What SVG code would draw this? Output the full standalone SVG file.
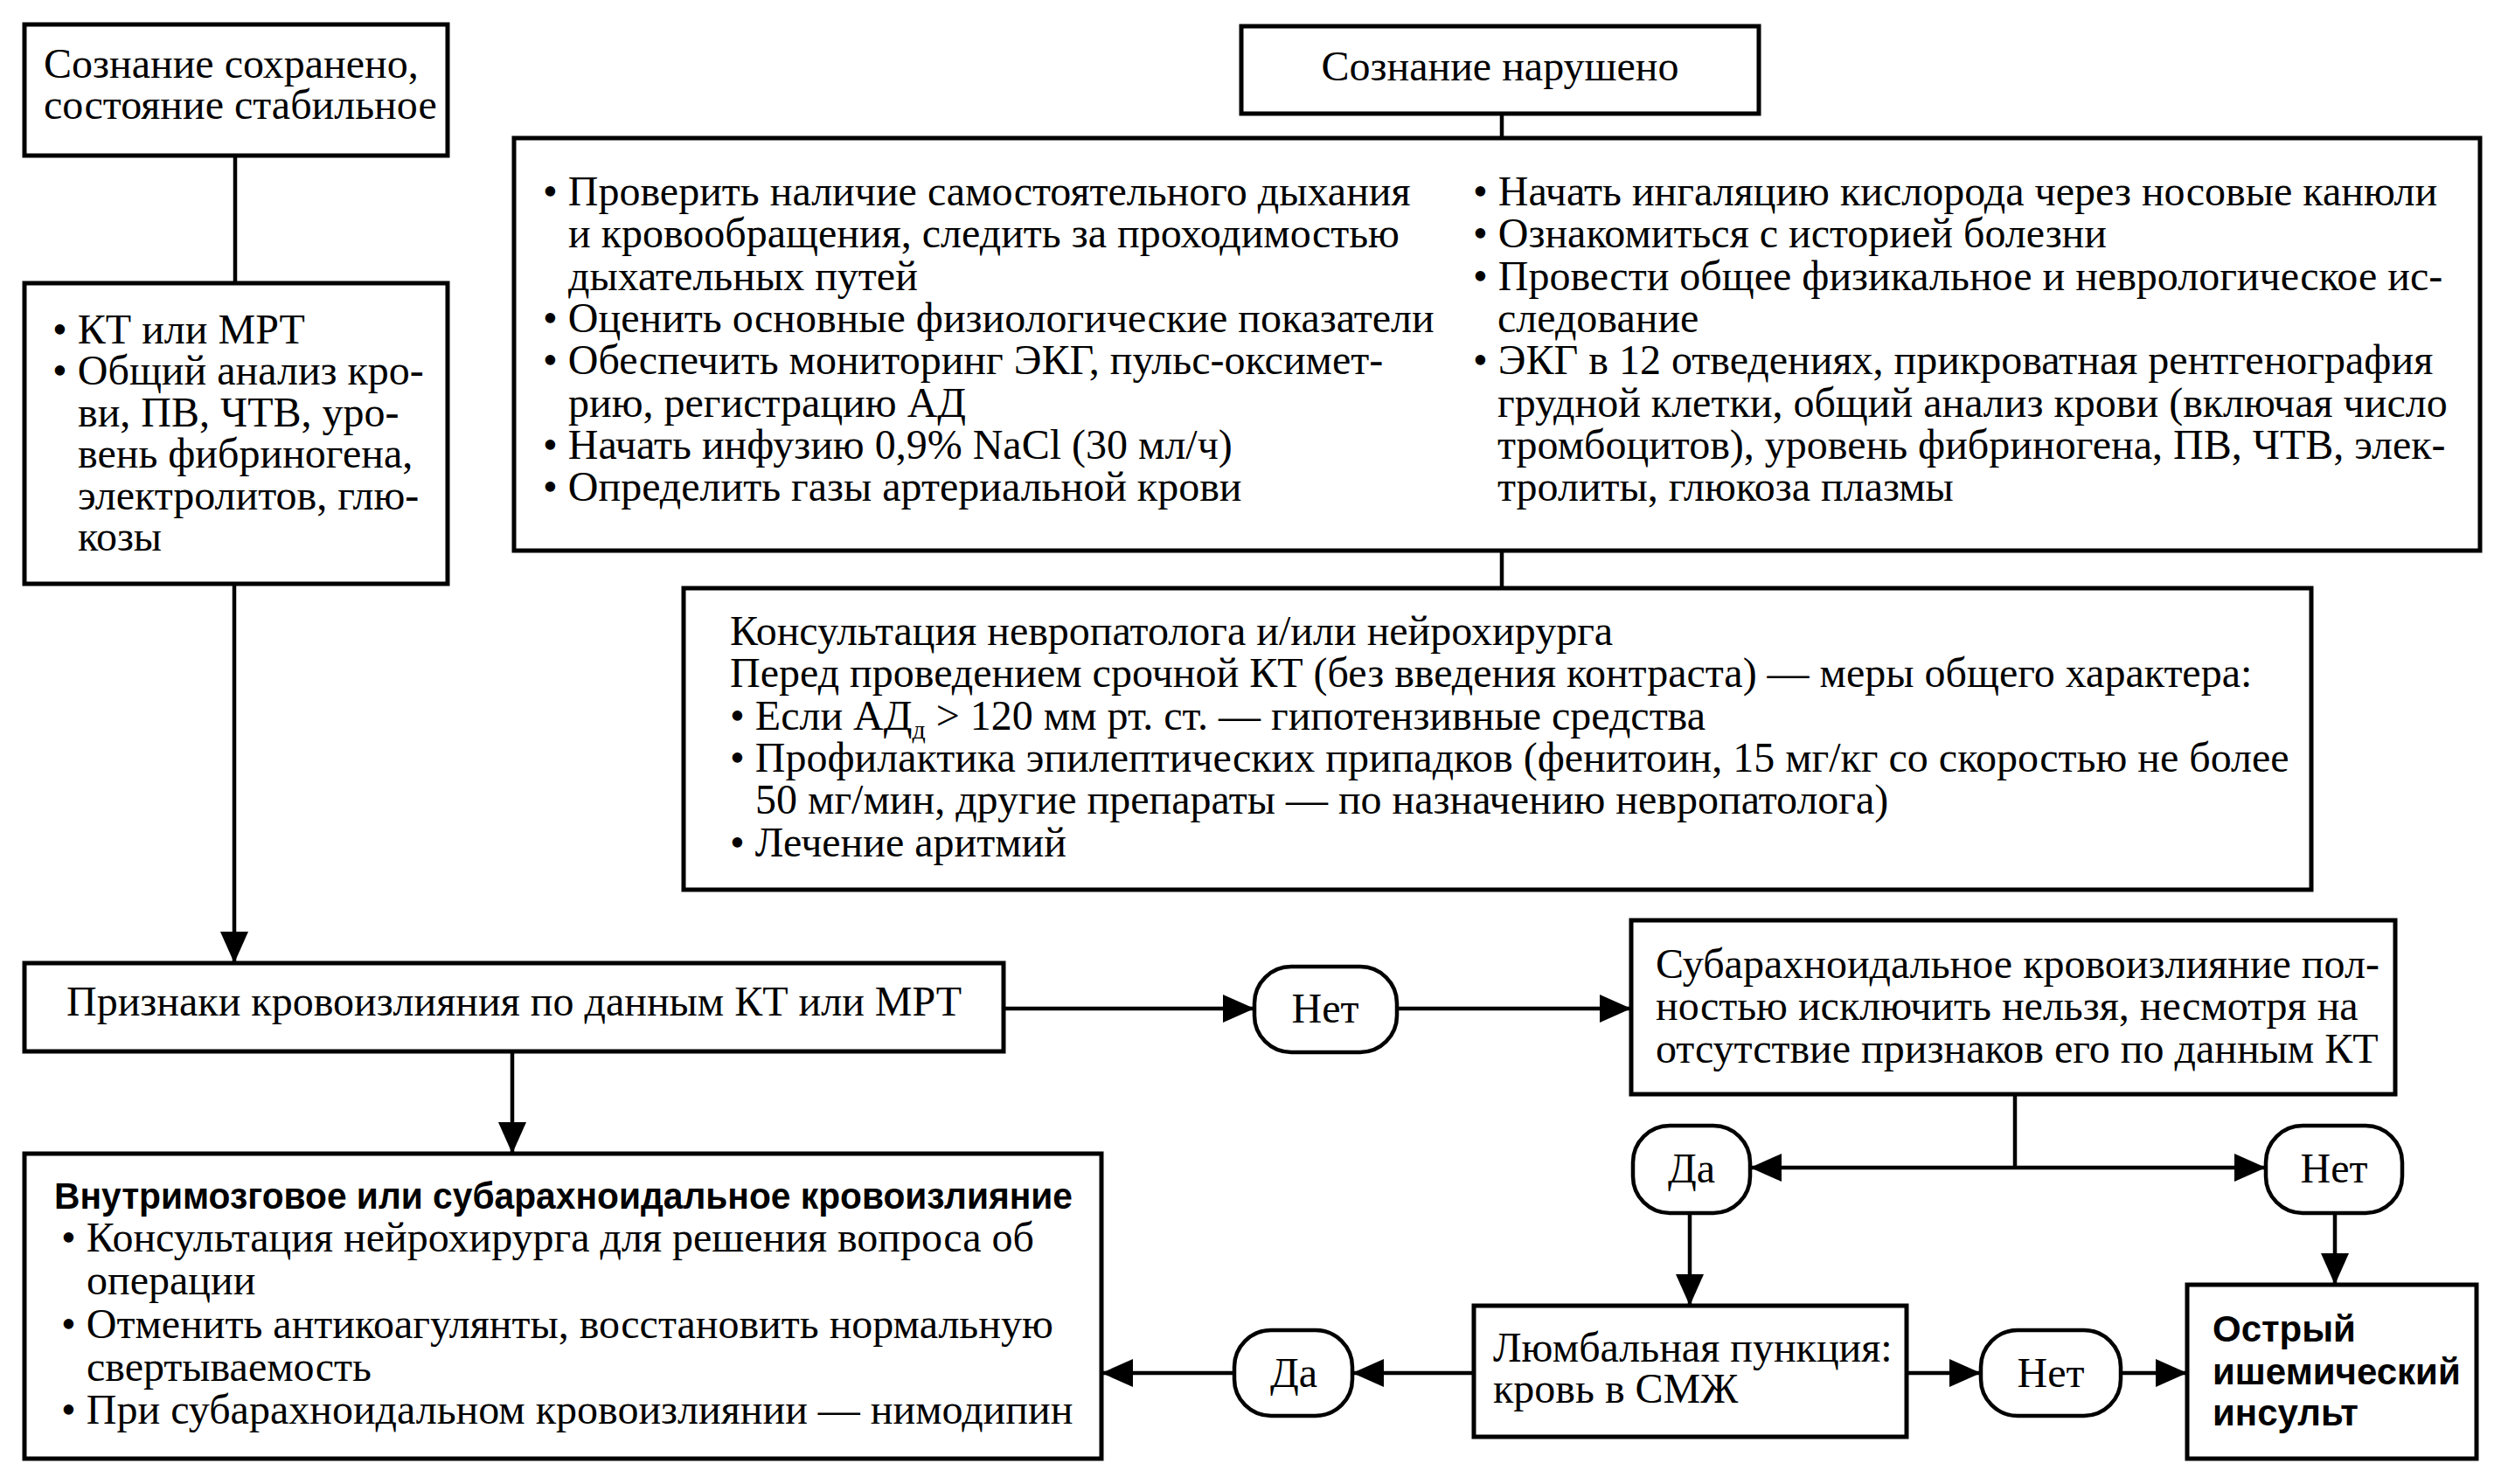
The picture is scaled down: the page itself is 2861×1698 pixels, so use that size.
<svg xmlns="http://www.w3.org/2000/svg" width="2861" height="1698" viewBox="0 0 2861 1698">
<style>
.box{fill:#fff;stroke:#000;stroke-width:5}
.pill{fill:#fff;stroke:#000;stroke-width:4.5}
.t{font-family:"Liberation Serif","Times New Roman",serif;font-size:48px;fill:#000}
.b{font-family:"Liberation Sans",Arial,sans-serif;font-size:42px;font-weight:bold;fill:#000}
.c{text-anchor:middle}
.ln{fill:none;stroke:#000;stroke-width:4.5}
.ar{fill:none;stroke:#000;stroke-width:4.5;marker-end:url(#ah)}
</style>
<defs>
<marker id="ah" markerUnits="userSpaceOnUse" markerWidth="38" markerHeight="34" refX="36" refY="16" orient="auto">
<path d="M0,0 L36,16 L0,32 Z" fill="#000"/>
</marker>
</defs>
<rect width="2861" height="1698" fill="#fff"/>
<g id="connectors">
<line class="ln" x1="269" y1="178" x2="269" y2="324"/>
<line class="ar" x1="268" y1="668" x2="268" y2="1102"/>
<line class="ln" x1="1718" y1="130" x2="1718" y2="158"/>
<line class="ln" x1="1718" y1="630" x2="1718" y2="673"/>
<line class="ar" x1="1148" y1="1154" x2="1435" y2="1154"/>
<line class="ar" x1="1598" y1="1154" x2="1866" y2="1154"/>
<line class="ln" x1="2305" y1="1252" x2="2305" y2="1336"/>
<line class="ar" x1="2305" y1="1336" x2="2002" y2="1336"/>
<line class="ar" x1="2305" y1="1336" x2="2592" y2="1336"/>
<line class="ar" x1="1933" y1="1388" x2="1933" y2="1494"/>
<line class="ar" x1="2671" y1="1388" x2="2671" y2="1470"/>
<line class="ar" x1="2181" y1="1571" x2="2266" y2="1571"/>
<line class="ar" x1="2426" y1="1571" x2="2502" y2="1571"/>
<line class="ar" x1="1686" y1="1571" x2="1547" y2="1571"/>
<line class="ar" x1="1412" y1="1571" x2="1260" y2="1571"/>
<line class="ar" x1="586" y1="1203" x2="586" y2="1320"/>
</g>
<g id="n_conscious">
<rect class="box" x="28" y="28" width="484" height="150"/>
<text class="t" x="50" y="89">Сознание сохранено,</text>
<text class="t" x="50" y="136">состояние стабильное</text>
</g>
<g id="n_ct">
<rect class="box" x="28" y="324" width="484" height="344"/>
<text class="t" x="60" y="393">• КТ или МРТ</text>
<text class="t" x="60" y="440">• Общий анализ кро-</text>
<text class="t" x="89" y="488">ви, ПВ, ЧТВ, уро-</text>
<text class="t" x="89" y="535">вень фибриногена,</text>
<text class="t" x="89" y="583">электролитов, глю-</text>
<text class="t" x="89" y="630">козы</text>
</g>
<g id="n_impaired">
<rect class="box" x="1420" y="30" width="592" height="100"/>
<text class="t c" x="1716" y="92">Сознание нарушено</text>
</g>
<g id="n_measures">
<rect class="box" x="588" y="158" width="2249" height="472"/>
<text class="t" x="621" y="235">• Проверить наличие самостоятельного дыхания</text>
<text class="t" x="650" y="283">и кровообращения, следить за проходимостью</text>
<text class="t" x="650" y="332">дыхательных путей</text>
<text class="t" x="621" y="380">• Оценить основные физиологические показатели</text>
<text class="t" x="621" y="428">• Обеспечить мониторинг ЭКГ, пульс-оксимет-</text>
<text class="t" x="650" y="477">рию, регистрацию АД</text>
<text class="t" x="621" y="525">• Начать инфузию 0,9% NaCl (30 мл/ч)</text>
<text class="t" x="621" y="573">• Определить газы артериальной крови</text>
<text class="t" x="1685" y="235">• Начать ингаляцию кислорода через носовые канюли</text>
<text class="t" x="1685" y="283">• Ознакомиться с историей болезни</text>
<text class="t" x="1685" y="332">• Провести общее физикальное и неврологическое ис-</text>
<text class="t" x="1713" y="380">следование</text>
<text class="t" x="1685" y="428">• ЭКГ в 12 отведениях, прикроватная рентгенография</text>
<text class="t" x="1713" y="477">грудной клетки, общий анализ крови (включая число</text>
<text class="t" x="1713" y="525">тромбоцитов), уровень фибриногена, ПВ, ЧТВ, элек-</text>
<text class="t" x="1713" y="573">тролиты, глюкоза плазмы</text>
</g>
<g id="n_consult">
<rect class="box" x="782" y="673" width="1862" height="345"/>
<text class="t" x="835" y="738">Консультация невропатолога и/или нейрохирурга</text>
<text class="t" x="835" y="786">Перед проведением срочной КТ (без введения контраста) — меры общего характера:</text>
<text class="t" x="835" y="835">• Если АД<tspan font-size="30" dy="10">д</tspan><tspan dy="-10"> &gt; 120 мм рт. ст. — гипотензивные средства</tspan></text>
<text class="t" x="835" y="883">• Профилактика эпилептических припадков (фенитоин, 15 мг/кг со скоростью не более</text>
<text class="t" x="864" y="931">50 мг/мин, другие препараты — по назначению невропатолога)</text>
<text class="t" x="835" y="980">• Лечение аритмий</text>
</g>
<g id="n_signs">
<rect class="box" x="28" y="1102" width="1120" height="101"/>
<text class="t" x="76" y="1162">Признаки кровоизлияния по данным КТ или МРТ</text>
</g>
<g id="n_no1">
<rect class="pill" x="1435" y="1106" width="163" height="98" rx="42"/>
<text class="t c" x="1516" y="1170">Нет</text>
</g>
<g id="n_sah">
<rect class="box" x="1866" y="1053" width="874" height="199"/>
<text class="t" x="1894" y="1119">Субарахноидальное кровоизлияние пол-</text>
<text class="t" x="1894" y="1167">ностью исключить нельзя, несмотря на</text>
<text class="t" x="1894" y="1216">отсутствие признаков его по данным КТ</text>
</g>
<g id="n_yes1">
<rect class="pill" x="1868" y="1288" width="134" height="100" rx="42"/>
<text class="t c" x="1935" y="1353">Да</text>
</g>
<g id="n_no2">
<rect class="pill" x="2592" y="1288" width="156" height="100" rx="42"/>
<text class="t c" x="2670" y="1353">Нет</text>
</g>
<g id="n_hemorrhage">
<rect class="box" x="28" y="1320" width="1232" height="349"/>
<text class="b" x="62" y="1383" textLength="1165" lengthAdjust="spacingAndGlyphs">Внутримозговое или субарахноидальное кровоизлияние</text>
<text class="t" x="70" y="1432">• Консультация нейрохирурга для решения вопроса об</text>
<text class="t" x="99" y="1481">операции</text>
<text class="t" x="70" y="1531">• Отменить антикоагулянты, восстановить нормальную</text>
<text class="t" x="99" y="1580">свертываемость</text>
<text class="t" x="70" y="1629">• При субарахноидальном кровоизлиянии — нимодипин</text>
</g>
<g id="n_yes2">
<rect class="pill" x="1412" y="1522" width="135" height="98" rx="42"/>
<text class="t c" x="1480" y="1587">Да</text>
</g>
<g id="n_lumbar">
<rect class="box" x="1686" y="1494" width="495" height="150"/>
<text class="t" x="1708" y="1558">Люмбальная пункция:</text>
<text class="t" x="1708" y="1605">кровь в СМЖ</text>
</g>
<g id="n_no3">
<rect class="pill" x="2266" y="1522" width="160" height="98" rx="42"/>
<text class="t c" x="2346" y="1587">Нет</text>
</g>
<g id="n_stroke">
<rect class="box" x="2502" y="1470" width="331" height="199"/>
<text class="b" x="2531" y="1535">Острый</text>
<text class="b" x="2531" y="1584">ишемический</text>
<text class="b" x="2531" y="1631">инсульт</text>
</g>
</svg>
